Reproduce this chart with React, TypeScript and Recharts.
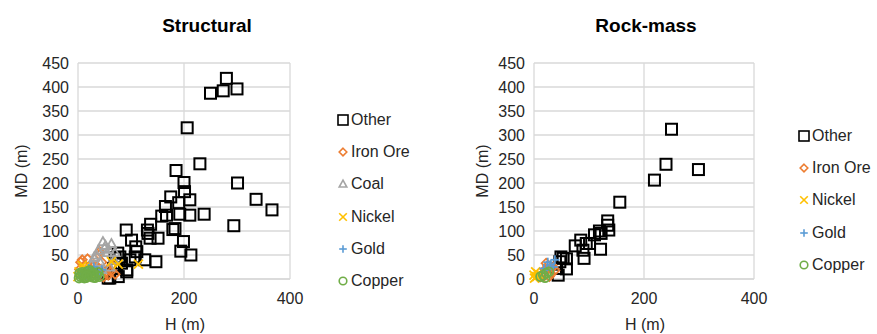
import React from "react";
import { ScatterChart, Scatter, XAxis, YAxis, CartesianGrid } from "recharts";

// ---------- Data (H in m, MD in m) ----------
const seriesNames = ["Other", "Iron Ore", "Coal", "Nickel", "Gold", "Copper"];
const xTicks = [0, 200, 400];
const yTicks = [0, 50, 100, 150, 200, 250, 300, 350, 400, 450];

// Structural
const structOtherH = [280, 250, 274, 300, 206, 230, 185, 200, 301, 201, 336, 211, 366, 175, 190, 165, 238, 211, 192, 167, 158, 294, 183, 179, 137, 131, 136, 151, 91, 199, 194, 213, 147, 101, 109, 111, 108, 98, 79, 82, 92, 76, 126, 67, 48, 60, 70, 75, 73, 92, 57, 132];
const structOtherMD = [418, 387, 392, 396, 315, 240, 226, 201, 200, 182, 166, 165, 144, 171, 159, 151, 135, 133, 135, 133, 131, 111, 105, 103, 114, 102, 85, 85, 102, 78, 58, 50, 36, 81, 67, 57, 46, 40, 46, 33, 19, 5, 40, 22, 12, 2, 44, 54, 22, 15, 2, 95];
const structIronH = [57, 51, 40, 58, 30, 20, 10, 5, 3, 15, 25, 45, 35, 8, 62, 70, 64, 41, 29, 48, 18, 12];
const structIronMD = [8, 12, 50, 22, 30, 25, 15, 35, 20, 8, 5, 35, 18, 40, 15, 10, 29, 57, 26, 4, 42, 28];
const structCoalH = [47, 63, 38, 55, 30, 68, 42, 25, 60, 50, 35, 20, 70, 45, 52, 58];
const structCoalMD = [78, 74, 60, 55, 45, 40, 35, 30, 25, 65, 50, 20, 55, 20, 70, 62];
const structNickelH = [76, 114, 63, 5, 10, 15, 2, 20, 8, 30, 0, 12];
const structNickelMD = [31, 31, 36, 10, 20, 5, 15, 12, 28, 8, 5, 24];
const structGoldH = [45, 26, 35, 15, 20, 10, 5, 40, 30];
const structGoldMD = [19, 15, 10, 5, 22, 12, 3, 8, 25];
const structCopperH = [5, 10, 15, 20, 25, 30, 8, 18, 28, 35, 12, 3, 22, 38, 15, 2, 25, 32, 6, 40, 27, 17];
const structCopperMD = [5, 8, 3, 10, 6, 12, 14, 16, 4, 8, 2, 12, 18, 14, 10, 2, 15, 3, 9, 5, 9, 6];

// Rock-mass
const rockOtherH = [250, 240, 299, 219, 156, 134, 136, 134, 119, 122, 110, 121, 101, 95, 85, 75, 89, 91, 59, 49, 53, 59, 47, 44, 41];
const rockOtherMD = [312, 239, 228, 206, 160, 121, 102, 112, 100, 95, 92, 62, 74, 74, 81, 69, 60, 43, 42, 46, 43, 21, 36, 8, 22];
const rockIronH = [11, 15, 20, 25, 30, 35, 38, 22, 18, 28];
const rockIronMD = [4, 10, 20, 28, 12, 25, 18, 33, 6, 5];
const rockNickelH = [0, 3, 1, 5, 8];
const rockNickelMD = [8, 15, 2, 5, 10];
const rockGoldH = [23, 30, 35, 38, 25, 18];
const rockGoldMD = [19, 30, 25, 40, 35, 22];
const rockCopperH = [17, 22, 12, 27, 20];
const rockCopperMD = [8, 12, 5, 15, 3];

const toPts = (h: number[], md: number[]) => h.map((v, i) => ({ h: v, md: md[i] }));

const colors: Record<string, string> = {
  Other: "#000000",
  "Iron Ore": "#ED7D31",
  Coal: "#A5A5A5",
  Nickel: "#FFC000",
  Gold: "#5B9BD5",
  Copper: "#70AD47",
};

const FONT = '"Liberation Sans", Arial, sans-serif';

// ---------- Marker shapes ----------
function markerEl(name: string, cx: number, cy: number, s: number, sw: number, key?: string) {
  const c = colors[name];
  switch (name) {
    case "Other":
      return <rect key={key} x={cx - s} y={cy - s} width={2 * s} height={2 * s} fill="none" stroke={c} strokeWidth={sw} />;
    case "Iron Ore":
      return <polygon key={key} points={`${cx},${cy - s} ${cx + s},${cy} ${cx},${cy + s} ${cx - s},${cy}`} fill="none" stroke={c} strokeWidth={sw} />;
    case "Coal":
      return <polygon key={key} points={`${cx},${cy - s} ${cx + s},${cy + s * 0.8} ${cx - s},${cy + s * 0.8}`} fill="none" stroke={c} strokeWidth={sw} />;
    case "Nickel":
      return (
        <g key={key} stroke={c} strokeWidth={sw}>
          <line x1={cx - s} y1={cy - s} x2={cx + s} y2={cy + s} />
          <line x1={cx - s} y1={cy + s} x2={cx + s} y2={cy - s} />
        </g>
      );
    case "Gold":
      return (
        <g key={key} stroke={c} strokeWidth={sw}>
          <line x1={cx - s} y1={cy} x2={cx + s} y2={cy} />
          <line x1={cx} y1={cy - s} x2={cx} y2={cy + s} />
        </g>
      );
    default:
      return <circle key={key} cx={cx} cy={cy} r={s} fill="none" stroke={c} strokeWidth={sw} />;
  }
}

const shapeFor = (name: string) => (props: any) => {
  const s = name === "Other" ? 5.5 : 4.5;
  const sw = name === "Other" ? 2 : 1.8;
  return markerEl(name, props.cx, props.cy, s, sw);
};

// ---------- Panel ----------
type Series = { name: string; data: { h: number; md: number }[] };

function Panel({ series, width, yAxisWidth, rightMargin }: { series: Series[]; width: number; yAxisWidth: number; rightMargin: number }) {
  const tickStyle = { fill: "#262626", fontSize: 16, fontFamily: FONT };
  return (
    <ScatterChart width={width} height={334} margin={{ top: 63, right: rightMargin, bottom: 0, left: 0 }}>
      <CartesianGrid stroke="#d9d9d9" strokeWidth={1.3} />
      <XAxis
        type="number"
        dataKey="h"
        domain={[0, 400]}
        ticks={xTicks}
        height={55}
        axisLine={{ stroke: "#d9d9d9", strokeWidth: 1.3 }}
        tickLine={false}
        tickSize={0}
        tickMargin={14}
        tick={tickStyle}
      />
      <YAxis
        type="number"
        dataKey="md"
        domain={[0, 450]}
        ticks={yTicks}
        width={yAxisWidth}
        axisLine={false}
        tickLine={false}
        tickSize={0}
        tickMargin={9}
        tick={tickStyle}
      />
      {series.map((s) => (
        <Scatter key={s.name} name={s.name} data={s.data} shape={shapeFor(s.name)} isAnimationActive={false} />
      ))}
    </ScatterChart>
  );
}

function LegendBox({ names, left, top, textLeft }: { names: string[]; left: number; top: number; textLeft: number }) {
  return (
    <div style={{ position: "absolute", left, top }}>
      {names.map((n, i) => (
        <div key={n} style={{ position: "absolute", left: 0, top: i * 32.2, height: 20, width: 120, fontFamily: FONT, fontSize: 16, color: "#262626", whiteSpace: "nowrap" }}>
          <svg width={14} height={20} style={{ position: "absolute", left: 0, top: 0 }}>
            {markerEl(n, 7, 10, n === "Other" ? 5 : 3.8, 1.6)}
          </svg>
          <span style={{ position: "absolute", left: textLeft, top: 1, lineHeight: "18px" }}>{n}</span>
        </div>
      ))}
    </div>
  );
}

const Txt = ({ x, y, text, size = 16, bold = false, rotate = false }: any) => (
  <div
    style={{
      position: "absolute",
      left: x,
      top: y,
      transform: `translate(-50%, -50%)${rotate ? " rotate(-90deg)" : ""}`,
      fontFamily: FONT,
      fontSize: size,
      fontWeight: bold ? "bold" : "normal",
      color: bold ? "#000" : "#262626",
      whiteSpace: "nowrap",
    }}
  >
    {text}
  </div>
);

export default function App() {
  const structural: Series[] = [
    { name: "Other", data: toPts(structOtherH, structOtherMD) },
    { name: "Iron Ore", data: toPts(structIronH, structIronMD) },
    { name: "Coal", data: toPts(structCoalH, structCoalMD) },
    { name: "Nickel", data: toPts(structNickelH, structNickelMD) },
    { name: "Gold", data: toPts(structGoldH, structGoldMD) },
    { name: "Copper", data: toPts(structCopperH, structCopperMD) },
  ];
  const rockmass: Series[] = [
    { name: "Other", data: toPts(rockOtherH, rockOtherMD) },
    { name: "Iron Ore", data: toPts(rockIronH, rockIronMD) },
    { name: "Nickel", data: toPts(rockNickelH, rockNickelMD) },
    { name: "Gold", data: toPts(rockGoldH, rockGoldMD) },
    { name: "Copper", data: toPts(rockCopperH, rockCopperMD) },
  ];
  return (
    <div style={{ position: "absolute", left: 0, top: 0, width: 877, height: 334, background: "#fff", overflow: "hidden" }}>
      <div style={{ position: "absolute", left: 0, top: 0 }}>
        <Panel series={structural} width={440} yAxisWidth={78} rightMargin={150} />
      </div>
      <div style={{ position: "absolute", left: 440, top: 0 }}>
        <Panel series={rockmass} width={437} yAxisWidth={94} rightMargin={123} />
      </div>
      <Txt x={207} y={26} text="Structural" size={19} bold />
      <Txt x={646} y={26} text="Rock-mass" size={19} bold />
      <Txt x={22} y={171} text="MD (m)" rotate />
      <Txt x={483} y={171} text="MD (m)" rotate />
      <Txt x={185} y={325} text="H (m)" />
      <Txt x={645} y={325} text="H (m)" />
      <LegendBox names={seriesNames} left={336} top={110} textLeft={15} />
      <LegendBox names={rockmass.map((s) => s.name)} left={797} top={126} textLeft={15} />
    </div>
  );
}
